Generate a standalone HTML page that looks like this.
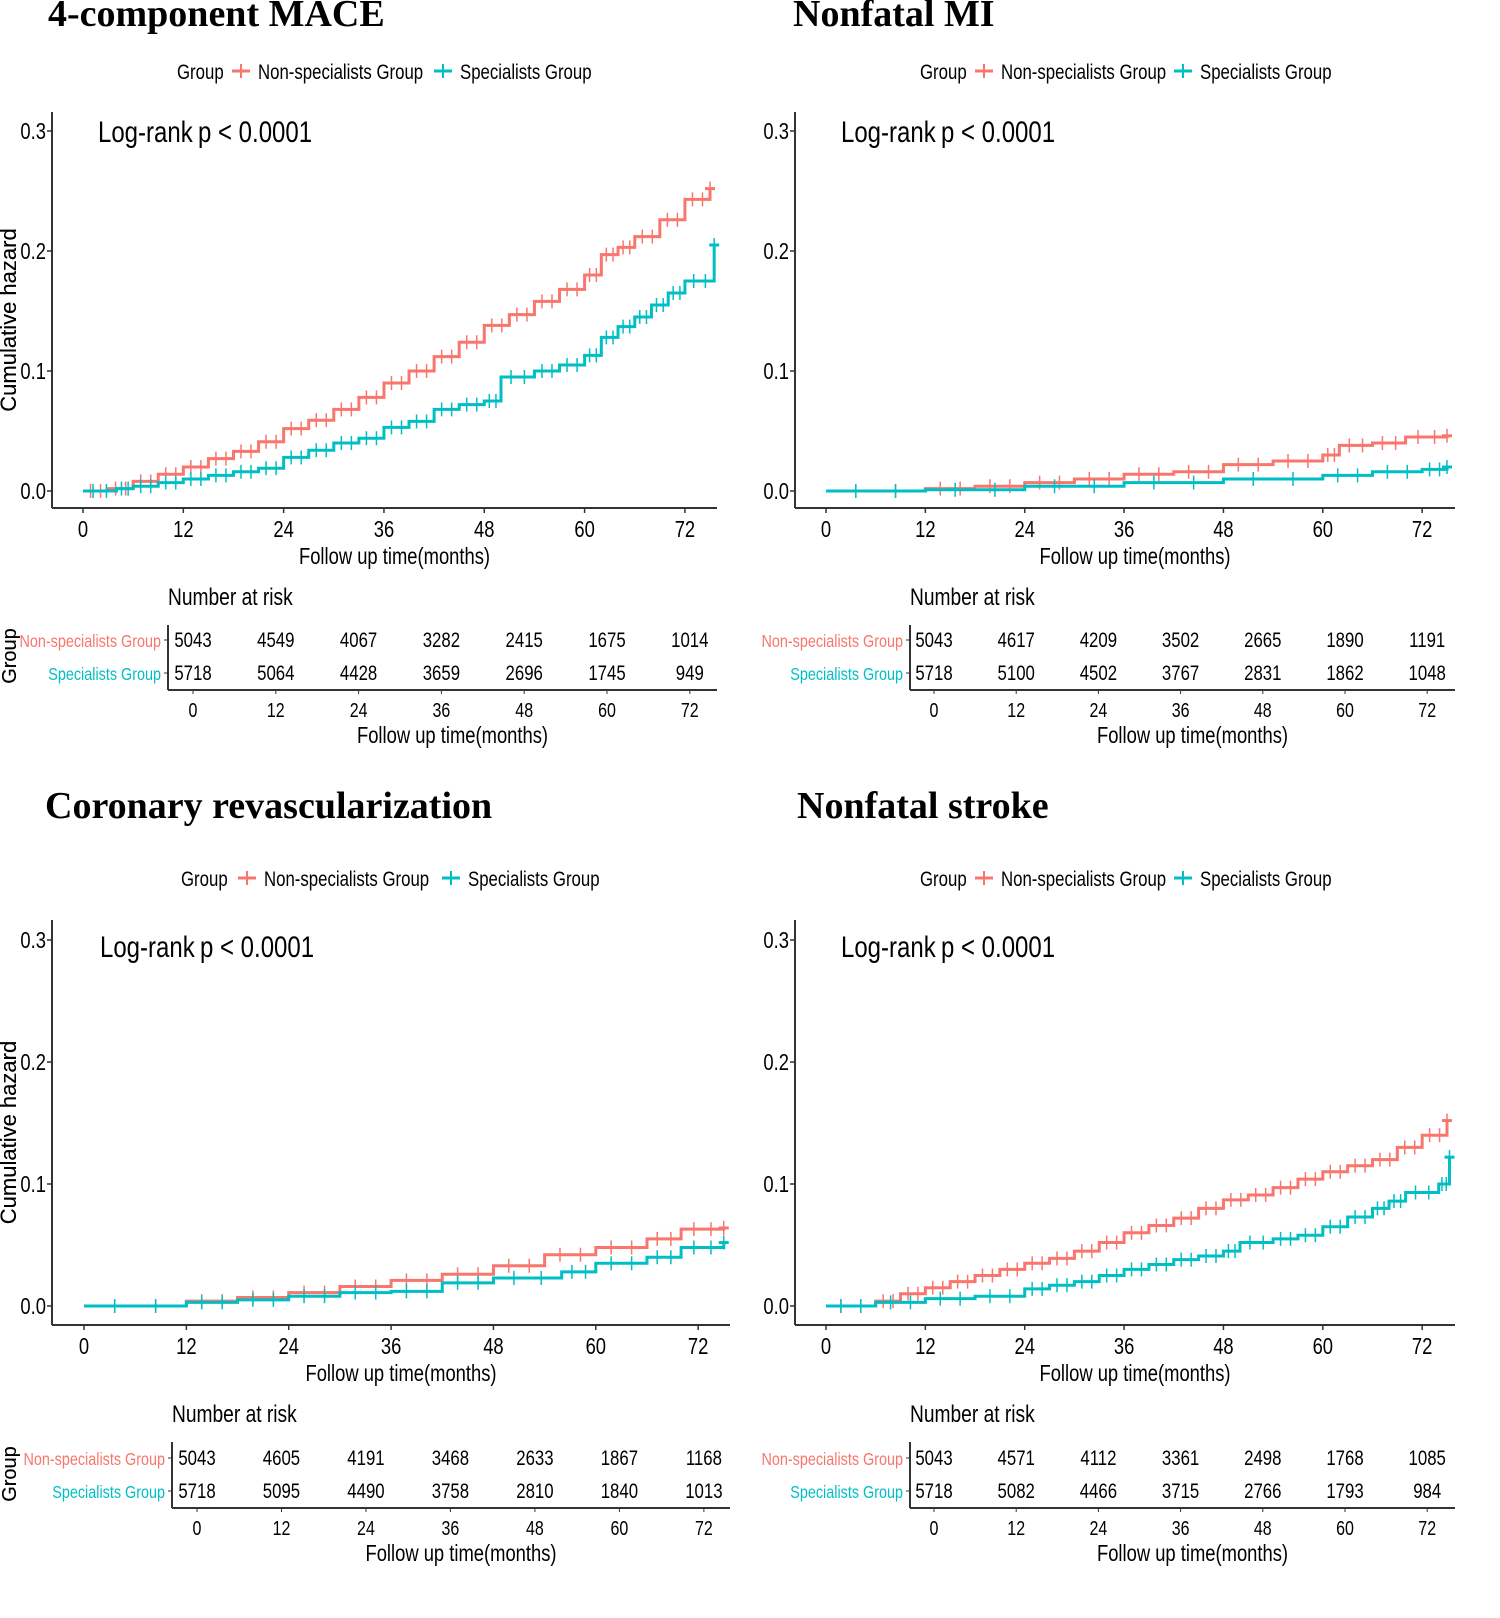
<!DOCTYPE html>
<html><head><meta charset="utf-8"><style>
html,body{margin:0;padding:0;background:#fff;}
svg{display:block;font-family:"Liberation Sans",sans-serif;}
</style></head><body>
<svg id="fig" width="1500" height="1618" viewBox="0 0 1500 1618" xmlns="http://www.w3.org/2000/svg"></svg>
<script>
// ---- data ----
const mace_red_t = [0,3,6,9,12,15,18,21,24,27,30,33,36,39,42,45,48,51,54,57,60,62,64,66,69,72,75];
const mace_red_v = [0,0.002,0.008,0.014,0.02,0.027,0.033,0.041,0.052,0.059,0.068,0.078,0.09,0.1,0.112,0.124,0.138,0.147,0.158,0.168,0.18,0.197,0.203,0.212,0.226,0.243,0.252];
const mace_cyan_t = [0,4,6,9,12,15,18,21,24,27,30,33,36,39,42,45,48,50,54,57,60,62,64,66,68,70,72,75.5];
const mace_cyan_v = [0,0.002,0.004,0.007,0.01,0.013,0.016,0.019,0.028,0.034,0.04,0.044,0.053,0.058,0.068,0.072,0.075,0.095,0.1,0.105,0.113,0.128,0.137,0.145,0.155,0.165,0.175,0.205];
const mi_red_t = [0,12,18,24,30,36,42,48,54,60,62,66,70,75];
const mi_red_v = [0,0.002,0.004,0.007,0.01,0.014,0.016,0.022,0.025,0.03,0.038,0.04,0.045,0.046];
const mi_cyan_t = [0,12,24,36,48,60,66,72,75];
const mi_cyan_v = [0,0.001,0.004,0.007,0.01,0.013,0.016,0.018,0.02];
const cr_red_t = [0,12,18,24,30,36,42,48,54,60,66,70,75];
const cr_red_v = [0,0.004,0.007,0.011,0.016,0.021,0.026,0.033,0.042,0.048,0.055,0.063,0.064];
const cr_cyan_t = [0,12,18,24,30,36,42,48,56,60,66,70,75];
const cr_cyan_v = [0,0.003,0.005,0.008,0.011,0.012,0.019,0.023,0.028,0.035,0.04,0.048,0.052];
const st_red_t = [0,6,9,12,15,18,21,24,27,30,33,36,39,42,45,48,51,54,57,60,63,66,69,72,75];
const st_red_v = [0,0.004,0.01,0.015,0.02,0.025,0.03,0.035,0.039,0.045,0.052,0.06,0.066,0.072,0.08,0.087,0.091,0.097,0.104,0.11,0.115,0.12,0.13,0.14,0.152];
const st_cyan_t = [0,6,12,18,24,27,30,33,36,39,42,45,48,50,54,57,60,63,66,68,70,74,75.3];
const st_cyan_v = [0,0.003,0.006,0.008,0.014,0.017,0.02,0.025,0.03,0.034,0.038,0.041,0.045,0.052,0.055,0.058,0.065,0.073,0.08,0.086,0.093,0.1,0.122];
const risk_ticks = [0,12,24,36,48,60,72];
const y_ticks = [0,0.1,0.2,0.3];
const y_tick_labels = ["0.0","0.1","0.2","0.3"];
const mace_risk_red = [5043,4549,4067,3282,2415,1675,1014];
const mace_risk_cyan = [5718,5064,4428,3659,2696,1745,949];
const mi_risk_red = [5043,4617,4209,3502,2665,1890,1191];
const mi_risk_cyan = [5718,5100,4502,3767,2831,1862,1048];
const cr_risk_red = [5043,4605,4191,3468,2633,1867,1168];
const cr_risk_cyan = [5718,5095,4490,3758,2810,1840,1013];
const st_risk_red = [5043,4571,4112,3361,2498,1768,1085];
const st_risk_cyan = [5718,5082,4466,3715,2766,1793,984];

const RED="#F8766D", CYAN="#00BFC4";
const NS="http://www.w3.org/2000/svg";
const svg=document.getElementById('fig');
function mk(tag,attrs,parent,text){const e=document.createElementNS(NS,tag);for(const k in attrs)e.setAttribute(k,attrs[k]);if(text!==undefined)e.textContent=text;(parent||svg).appendChild(e);return e;}
function T(parent,x,y,str,size,anchor,fill){
  return mk('text',{x:0,y:0,transform:`translate(${x},${y}) scale(0.8,1)`,'font-size':size,'text-anchor':anchor||'start',fill:fill||'#000'},parent,str);
}

function panel(P){
  const g=mk('g',{});
  
  
  const t=mk('text',{x:P.titleX,y:P.titleY,'font-family':'"Liberation Serif",serif','font-weight':'bold','font-size':38},g,P.title);
  
  
  const lg=mk('g',{},g);
  
  
  const fs=21;
  T(lg,P.leg[0],P.legY+8,'Group',fs);
  [[P.leg[1],RED,'Non-specialists Group'],[P.leg[3],CYAN,'Specialists Group']].forEach((d,i)=>{
    const e=mk('g',{},lg);
    
    
    mk('line',{x1:d[0]-9,x2:d[0]+9,y1:P.legY,y2:P.legY,stroke:d[1],'stroke-width':3},e);
    mk('line',{x1:d[0],x2:d[0],y1:P.legY-7,y2:P.legY+7,stroke:d[1],'stroke-width':2},e);
    T(e,d[0]+17,P.legY+8,d[2],fs);
  });
  const xs=v=>P.x0+v*P.kx, ys=v=>P.y0-v*P.ky;
  const ax=mk('g',{},g);
  
  
  mk('line',{x1:P.axX,x2:P.axX,y1:P.axTop,y2:P.axY,stroke:'#333','stroke-width':2},ax);
  mk('line',{x1:P.axX,x2:P.axR,y1:P.axY,y2:P.axY,stroke:'#333','stroke-width':2},ax);
  y_ticks.forEach((v,i)=>{mk('line',{x1:P.axX-5,x2:P.axX,y1:ys(v),y2:ys(v),stroke:'#333','stroke-width':1.5},ax);
    T(ax,P.axX-6,ys(v)+8,y_tick_labels[i],23,'end');});
  risk_ticks.forEach(v=>{mk('line',{x1:xs(v),x2:xs(v),y1:P.axY,y2:P.axY+5,stroke:'#333','stroke-width':1.5},ax);
    T(ax,xs(v),P.axY+29,String(v),23,'middle');});
  T(ax,(P.axX+P.axR)/2+10,P.axY+56,'Follow up time(months)',23,'middle');
  const yt=mk('text',{transform:`translate(16,${(P.axTop+P.axY)/2+10}) rotate(-90)`,'font-size':22,'text-anchor':'middle'},g,'Cumulative hazard');
  
  
  T(g,P.lrX,P.y0-349,'Log-rank',30);
  T(g,P.lrX+100,P.y0-349,'p < 0.0001',30);
  [[P.rt,P.rv,RED,'curve-non-specialists'],[P.ct,P.cv,CYAN,'curve-specialists']].forEach(s=>{
    let d=`M${xs(s[0][0])},${ys(s[1][0])}`;
    for(let i=1;i<s[0].length;i++){d+=`H${xs(s[0][i])}V${ys(s[1][i])}`;}
    const p=mk('path',{d:d,fill:'none',stroke:s[2],'stroke-width':3},g);
    
    
    for(let i=0;i<s[0].length-1;i++){
      [0.3,0.7].forEach(f=>{const tx=s[0][i]+(s[0][i+1]-s[0][i])*f;
        mk('line',{x1:xs(tx),x2:xs(tx),y1:ys(s[1][i])-7,y2:ys(s[1][i])+7,stroke:s[2],'stroke-width':1.5},g);});
    }
    const L=s[0].length-1;
    mk('line',{x1:xs(s[0][L])-5,x2:xs(s[0][L])+5,y1:ys(s[1][L]),y2:ys(s[1][L]),stroke:s[2],'stroke-width':3},g);
    mk('line',{x1:xs(s[0][L]),x2:xs(s[0][L]),y1:ys(s[1][L])-7,y2:ys(s[1][L])+7,stroke:s[2],'stroke-width':1.5},g);
  });
  const rt=mk('g',{},g);
  
  
  const rx=v=>P.r0+v*P.rk;
  T(rt,P.rL,P.rTop-20,'Number at risk',24);
  mk('line',{x1:P.rL,x2:P.rL,y1:P.rTop,y2:P.rAx,stroke:'#333','stroke-width':2},rt);
  mk('line',{x1:P.rL,x2:P.axR,y1:P.rAx,y2:P.rAx,stroke:'#333','stroke-width':2},rt);
  [[P.rr,'#F8766D','Non-specialists Group',P.rAx-50],[P.rc,'#00BFC4','Specialists Group',P.rAx-17]].forEach(r=>{
    mk('line',{x1:P.rL-4,x2:P.rL,y1:r[3],y2:r[3],stroke:'#333'},rt);
    T(rt,P.rL-7,r[3]+7,r[2],18,'end',r[1]);
    risk_ticks.forEach((v,i)=>T(rt,rx(v),r[3]+7,String(r[0][i]),21,'middle'));
  });
  risk_ticks.forEach(v=>{mk('line',{x1:rx(v),x2:rx(v),y1:P.rAx,y2:P.rAx+4,stroke:'#333'},rt);
    T(rt,rx(v),P.rAx+27,String(v),20,'middle');});
  T(rt,(P.rL+P.axR)/2+10,P.rAx+53,'Follow up time(months)',23,'middle');
  mk('text',{transform:`translate(16,${P.rAx-34}) rotate(-90)`,'font-size':20,'text-anchor':'middle'},rt,'Group');
}
const topCfg={axTop:112,axY:508,y0:491,ky:1200,legY:71,rTop:625,rAx:690};
const botCfg={axTop:920,axY:1325,y0:1306,ky:1220,legY:878,rTop:1442,rAx:1508};
panel(Object.assign({name:'mace',title:'4-component MACE',titleX:48,titleY:26,leg:[177,241,0,443],axX:52,axR:717,x0:83,kx:8.36,lrX:98,
  rt:mace_red_t,rv:mace_red_v,ct:mace_cyan_t,cv:mace_cyan_v,rL:168,r0:193,rk:6.9,rr:mace_risk_red,rc:mace_risk_cyan},topCfg));
panel(Object.assign({name:'nonfatal-mi',title:'Nonfatal MI',titleX:793,titleY:26,leg:[920,984,0,1183],axX:795,axR:1455,x0:826,kx:8.28,lrX:841,
  rt:mi_red_t,rv:mi_red_v,ct:mi_cyan_t,cv:mi_cyan_v,rL:910,r0:934,rk:6.85,rr:mi_risk_red,rc:mi_risk_cyan},topCfg));
panel(Object.assign({name:'coronary',title:'Coronary revascularization',titleX:45,titleY:818,leg:[181,247,0,451],axX:52,axR:730,x0:84,kx:8.53,lrX:100,
  rt:cr_red_t,rv:cr_red_v,ct:cr_cyan_t,cv:cr_cyan_v,rL:172,r0:197,rk:7.04,rr:cr_risk_red,rc:cr_risk_cyan},botCfg));
panel(Object.assign({name:'nonfatal-stroke',title:'Nonfatal stroke',titleX:797,titleY:818,leg:[920,984,0,1183],axX:795,axR:1455,x0:826,kx:8.28,lrX:841,
  rt:st_red_t,rv:st_red_v,ct:st_cyan_t,cv:st_cyan_v,rL:910,r0:934,rk:6.85,rr:st_risk_red,rc:st_risk_cyan},botCfg));
</script>
</body></html>
